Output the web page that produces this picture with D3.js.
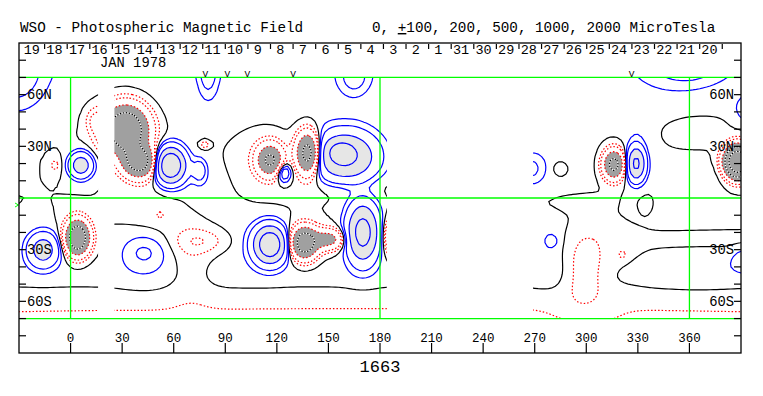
<!DOCTYPE html>
<html>
<head>
<meta charset="utf-8">
<script src="https://cdn.jsdelivr.net/npm/d3@7"></script>
<style>
  body { margin: 0; background: #fff; }
  svg text { font-family: "Liberation Mono", "DejaVu Sans Mono", monospace; fill: #000; }
</style>
</head>
<body>
<svg id="chart" width="763" height="396"></svg>
<script>
// ---- data ----
const rotation = "1663";
const dayLabels = [19, 18, 17, 16, 15, 14, 13, 12, 11, 10, 9, 8, 7, 6, 5, 4, 3, 2, 1,
                   31, 30, 29, 28, 27, 26, 25, 24, 23, 22, 21, 20];
const firstDayLon = -15.1;      // carrington longitude of the first day separator
const dayStepLon = 13.14;       // degrees per day
const obsMarkLons = [78.4, 91.2, 102.8, 129.5, 326.3];
const lonTicks = d3.range(0, 361, 30);
const latTicks = [-80, -70, -60, -50, -40, -30, -20, -10, 10, 20, 30, 40, 50, 60, 70, 80];
const latLabels = [[60, "60N"], [30, "30N"], [-30, "30S"], [-60, "60S"]];
const levels = [100, 200, 500, 1000, 2000];   // microtesla
const dataCover = [[-30, 16], [25.5, 184], [269, 390]];  // longitudes with data

// flux concentrations: [lon, lat, peak microtesla, width lon, width lat]
const fluxSources = [
  // broad background
  [180, -92, -270, 400, 20],
  [180, -45, 50, 400, 8],
  [180, 92, 110, 400, 15],
  [100, 55, 50, 60, 14],
  [330, 55, 50, 30, 12],
  // north, first half
  [-32, 72, 300, 12, 14],
  [-9, 19, -140, 2.5, 3.5],
  [6, 19, 800, 4.5, 4.8],
  [13, 45, -160, 3, 5],
  [32, 40, -1800, 8.5, 9],
  [40, 21, -1400, 6.5, 6],
  [58, 19, 1800, 5.5, 6.5],
  [75, 16, 320, 2.8, 4.5],
  [75, 5, 60, 10, 12],
  [78, 31, -220, 2, 1.5],
  [80, 74, 300, 3.5, 9],
  [112, 25, -70, 12, 14],
  [116, 22, -1100, 5, 6],
  [124, 15, 480, 3, 4],
  [138, 26, -1400, 4.5, 8],
  [160, 24, 1100, 12, 9.5],
  [157, 27, 500, 5, 4],
  [160, 6, -80, 18, 5],
  [165, 70, 250, 6, 7],
  // south, first half
  [-16, -30, 750, 6, 6.5],
  [4, -23, -1700, 4.5, 6.5],
  [42, -35, 50, 10, 12],
  [43, -31, 170, 9.5, 7],
  [50, -8, -60, 12, 10],
  [52, -10, -110, 1.5, 1.5],
  [70, -35, -80, 8, 18],
  [77, -25, -170, 11, 5],
  [100, -25, 60, 12, 12],
  [116, -27, 1600, 6, 7],
  [136, -26, -1500, 5, 6],
  [150, -24, -700, 6, 4],
  [170, -20, 1300, 6, 11],
  [189, -22, -900, 4, 7],
  // second half, north
  [268, 17, 220, 5, 6],
  [285, 22, 60, 15, 15],
  [285, 17, -150, 3, 3],
  [316, 19.5, -1250, 4, 5.5],
  [329, 20, 1150, 3.5, 6.5],
  [330, 40, 50, 6, 8],
  [388, 21, -3700, 4.5, 5.5],
  [362, 40, -70, 12, 5],
  [360, 12, 60, 15, 6],
  [395, 52, 200, 6, 6],
  [358, 76, 250, 16, 8],
  // second half, south
  [290, -3, -50, 15, 4],
  [277, -24, 70, 7, 14],
  [280, -25, 120, 2.5, 2.5],
  [299, -43.5, -190, 7.5, 15],
  [300, -68, 110, 12, 7],
  [315, -28, -50, 12, 15],
  [321, -33, -110, 2, 2],
  [350, -8, 50, 25, 7],
  [335, -5, -60, 4, 5],
  [360, -24, -60, 25, 3],
  [365, -40, 70, 18, 7],
  [392, -36, 150, 5, 5]
];

// ---- layout ----
const svg = d3.select("#chart");
const x = d3.scaleLinear().domain([-30, 390]).range([19, 741]);
const y = d3.scaleLinear().domain([-90, 90]).range([353, 43]);

// ---- field on a grid ----
const step = 2, lon0 = -50, lon1 = 410, lat0 = -90, lat1 = 90;
const nx = Math.round((lon1 - lon0) / step) + 1;
const ny = Math.round((lat1 - lat0) / step) + 1;
const field = new Float64Array(nx * ny);
for (let j = 0; j < ny; j++) {
  const lat = lat0 + j * step;
  for (let i = 0; i < nx; i++) {
    const lon = lon0 + i * step;
    let v = 0;
    for (const [sl, sb, a, wl, wb] of fluxSources) {
      const dl = (lon - sl) / wl, db = (lat - sb) / wb;
      v += a * Math.exp(-0.5 * (dl * dl + db * db));
    }
    field[j * nx + i] = v;
  }
}
const negField = field.map(v => -v);

const gridProj = d3.geoTransform({
  point(gx, gy) {
    this.stream.point(x(lon0 + (gx - 0.5) * step), y(lat0 + (gy - 0.5) * step));
  }
});
const path = d3.geoPath(gridProj);
const contours = d3.contours().size([nx, ny]);

const posC = contours.thresholds([0].concat(levels))(field);
const negC = contours.thresholds(levels)(negField);

// clip to the covered longitudes, lat +-70
const clip = svg.append("defs").append("clipPath").attr("id", "cover");
clip.selectAll("rect").data(dataCover).join("rect")
  .attr("x", d => x(d[0])).attr("width", d => x(d[1]) - x(d[0]))
  .attr("y", y(70)).attr("height", y(-70) - y(70));

const map = svg.append("g").attr("clip-path", "url(#cover)");

map.append("path").attr("d", path(posC.find(c => c.value === 500)))
  .attr("fill", "#e6e6e6");
map.append("path").attr("d", path(negC.find(c => c.value === 500)))
  .attr("fill", "#a0a0a0");

// positive & zero lines
map.selectAll(".pos").data(posC).join("path")
  .attr("class", "pos")
  .attr("d", path)
  .attr("fill", "none")
  .attr("stroke", d => d.value === 0 ? "#000" : "#0000ff")
  .attr("stroke-width", 1.2);

// negative lines
map.selectAll(".neg").data(negC.filter(c => c.value < 1000)).join("path")
  .attr("class", "neg")
  .attr("d", path)
  .attr("fill", "none")
  .attr("stroke", "#ff0000")
  .attr("stroke-width", 1.2)
  .attr("stroke-dasharray", "1.5,2");
const inner = negC.filter(c => c.value >= 1000);
map.selectAll(".negw").data(inner).join("path")
  .attr("d", path).attr("fill", "none")
  .attr("stroke", "#fff").attr("stroke-width", 1.2);
map.selectAll(".negb").data(inner).join("path")
  .attr("d", path).attr("fill", "none")
  .attr("stroke", "#000").attr("stroke-width", 1.2)
  .attr("stroke-dasharray", "1.5,1.5");

// ---- green reference lines ----
const green = svg.append("g").attr("stroke", "#00ff00").attr("stroke-width", 1.3);
[70, 0, -70].forEach(b => green.append("line")
  .attr("x1", x(-30)).attr("x2", x(390)).attr("y1", y(b)).attr("y2", y(b)));
[0, 180, 360].forEach(l => green.append("line")
  .attr("x1", x(l)).attr("x2", x(l)).attr("y1", y(70)).attr("y2", y(-70)));
svg.append("path").attr("d", "M15,203L18.5,205L15,207")
  .attr("fill", "none").attr("stroke", "#00ff00");

// ---- frame and axes ----
svg.append("rect").attr("x", x(-30)).attr("y", y(90))
  .attr("width", x(390) - x(-30)).attr("height", y(-90) - y(90))
  .attr("fill", "none").attr("stroke", "#000").attr("stroke-width", 1.3);

const ticks = svg.append("g").attr("stroke", "#000").attr("stroke-width", 1.2);
latTicks.forEach(b => {
  ticks.append("line").attr("x1", x(-30)).attr("x2", x(-30) + 7).attr("y1", y(b)).attr("y2", y(b));
  ticks.append("line").attr("x1", x(390) - 7).attr("x2", x(390)).attr("y1", y(b)).attr("y2", y(b));
});
lonTicks.forEach(l => ticks.append("line")
  .attr("x1", x(l)).attr("x2", x(l)).attr("y1", y(-90)).attr("y2", y(-90) - 10));

latLabels.forEach(([b, t]) => {
  svg.append("text").attr("x", x(-30) + 8).attr("y", y(b) + 4.5)
    .attr("font-size", 13.8).text(t);
  svg.append("text").attr("x", x(390) - 7).attr("y", y(b) + 4.5)
    .attr("font-size", 13.8).attr("text-anchor", "end").text(t);
});

svg.selectAll(".lonlab").data(lonTicks).join("text")
  .attr("x", d => x(d)).attr("y", 341.5)
  .attr("text-anchor", "middle").attr("font-size", 12.5)
  .text(d => d);

svg.append("text").attr("x", x(180)).attr("y", 372)
  .attr("text-anchor", "middle").attr("font-size", 17).text(rotation);

// day row
dayLabels.forEach((d, k) => {
  const sep = firstDayLon + k * dayStepLon;
  const mid = sep - dayStepLon / 2;
  svg.append("text").attr("x", x(mid) - 1.5).attr("y", 53.5)
    .attr("text-anchor", "middle").attr("font-size", 13.5).text(d);
  ticks.append("line").attr("x1", x(sep)).attr("x2", x(sep)).attr("y1", 44).attr("y2", 49);
});
svg.append("text").attr("x", 100).attr("y", 67).attr("font-size", 13.8).text("JAN 1978");

svg.selectAll(".obs").data(obsMarkLons).join("text")
  .attr("x", d => x(d)).attr("y", y(70) - 0.5)
  .attr("text-anchor", "middle").attr("font-size", 9.5).text("V");

// title
svg.append("text").attr("x", 20).attr("y", 32).attr("font-size", 14.3)
  .text("WSO - Photospheric Magnetic Field");
const sub = svg.append("text").attr("x", 372).attr("y", 32).attr("font-size", 14.3);
sub.append("tspan").text("0, ");
sub.append("tspan").attr("text-decoration", "underline").text("+");
sub.append("tspan").text("100, 200, 500, 1000, 2000 MicroTesla");
</script>
</body>
</html>
